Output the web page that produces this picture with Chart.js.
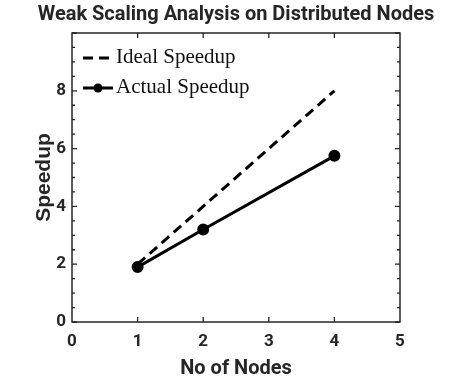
<!DOCTYPE html>
<html>
<head>
<meta charset="utf-8">
<script src="https://cdn.jsdelivr.net/npm/chart.js@4.4.1/dist/chart.umd.min.js"></script>
<style>
  html, body { margin: 0; padding: 0; background: #fff; }
  #wrap { width: 458px; height: 379px; }
</style>
</head>
<body>
<div id="wrap"><canvas id="myChart" width="458" height="379"></canvas></div>
<script>
// values
const nodes = [1, 2, 4];
const idealSpeedup = [2, 4, 8];
const actualSpeedup = [1.9, 3.2, 5.75];
const xTicks = [0, 1, 2, 3, 4, 5];
const yTicks = [0, 2, 4, 6, 8];
const yMinorTicks = [0.5, 1, 1.5, 2.5, 3, 3.5, 4.5, 5, 5.5, 6.5, 7, 7.5, 8.5, 9, 9.5, 10];
const seriesNames = ["Ideal Speedup", "Actual Speedup"];
const chartTitle = "Weak Scaling Analysis on Distributed Nodes";

const ink = "#262626";
const narrow = "Roboto, 'Liberation Sans', sans-serif";
const tickFont = { family: narrow, weight: "bold", size: 17 };

const toPoints = (xs, ys) => xs.map((x, i) => ({ x: x, y: ys[i] }));

// axes box, inward ticks, title and legend (matlab look)
const frame = {
  id: "frame",
  afterDraw(chart) {
    const ctx = chart.ctx;
    const a = chart.chartArea;
    const xs = chart.scales.x, ys = chart.scales.y;
    ctx.save();
    ctx.strokeStyle = ink;
    ctx.lineWidth = 1.5;
    ctx.strokeRect(a.left, a.top, a.right - a.left, a.bottom - a.top);
    ctx.lineWidth = 1.3;
    ctx.beginPath();
    xTicks.slice(1, -1).forEach(v => {
      const px = xs.getPixelForValue(v);
      ctx.moveTo(px, a.bottom); ctx.lineTo(px, a.bottom - 5);
      ctx.moveTo(px, a.top); ctx.lineTo(px, a.top + 5);
    });
    yTicks.concat([10]).forEach(v => {
      const py = ys.getPixelForValue(v);
      ctx.moveTo(a.left, py); ctx.lineTo(a.left + 5, py);
      ctx.moveTo(a.right, py); ctx.lineTo(a.right - 5, py);
    });
    yMinorTicks.forEach(v => {
      const py = ys.getPixelForValue(v);
      ctx.moveTo(a.left, py); ctx.lineTo(a.left + 3, py);
      ctx.moveTo(a.right, py); ctx.lineTo(a.right - 3, py);
    });
    ctx.stroke();

    // title
    ctx.fillStyle = ink;
    ctx.font = "bold 20px " + narrow;
    ctx.textAlign = "center";
    ctx.textBaseline = "middle";
    ctx.fillText(chartTitle, (a.left + a.right) / 2, 15);

    // legend
    ctx.font = "21px 'Liberation Serif', serif";
    ctx.textAlign = "left";
    chart.data.datasets.forEach((ds, i) => {
      const y = a.top + 25 + i * 30;
      const x0 = a.left + 11, x1 = a.left + 41;
      ctx.strokeStyle = ds.borderColor;
      ctx.lineWidth = ds.borderWidth;
      ctx.setLineDash(ds.borderDash || []);
      ctx.beginPath();
      ctx.moveTo(x0, y); ctx.lineTo(x1, y);
      ctx.stroke();
      ctx.setLineDash([]);
      if (ds.pointRadius > 0) {
        ctx.fillStyle = ds.pointBackgroundColor;
        ctx.beginPath();
        ctx.arc((x0 + x1) / 2, y, ds.pointRadius, 0, Math.PI * 2);
        ctx.fill();
      }
      ctx.fillStyle = "#111";
      ctx.fillText(ds.label, x1 + 3, y - 1);
    });
    ctx.restore();
  }
};

new Chart(document.getElementById("myChart"), {
  type: "line",
  data: {
    datasets: [
      {
        label: seriesNames[0],
        data: toPoints(nodes, idealSpeedup),
        borderColor: "#000",
        borderWidth: 3,
        borderDash: [10, 6],
        pointRadius: 0,
        fill: false
      },
      {
        label: seriesNames[1],
        data: toPoints(nodes, actualSpeedup),
        borderColor: "#000",
        borderWidth: 3,
        pointRadius: 4.5,
        pointBackgroundColor: "#000",
        pointBorderColor: "#000",
        fill: false
      }
    ]
  },
  options: {
    responsive: false,
    animation: false,
    layout: { padding: { top: 33, right: 58, left: 0, bottom: 0 } },
    plugins: {
      legend: { display: false },
      title: { display: false },
      tooltip: { enabled: false }
    },
    scales: {
      x: {
        type: "linear",
        min: 0,
        max: 5,
        afterBuildTicks: s => { s.ticks = xTicks.map(v => ({ value: v })); },
        afterFit: s => { s.height = 57; },
        grid: { display: false, drawTicks: false },
        border: { display: false },
        ticks: { color: ink, font: tickFont, padding: 10, maxRotation: 0 },
        title: {
          display: true,
          text: "No of Nodes",
          color: ink,
          font: { family: narrow, weight: "bold", size: 20, lineHeight: 1 },
          padding: { top: 0, bottom: 0 }
        }
      },
      y: {
        type: "linear",
        min: 0,
        max: 10,
        afterBuildTicks: s => { s.ticks = yTicks.map(v => ({ value: v })); },
        afterFit: s => { s.width = 72; },
        grid: { display: false, drawTicks: false },
        border: { display: false },
        ticks: { color: ink, font: tickFont, padding: 6 },
        title: {
          display: true,
          text: "Speedup",
          color: ink,
          font: { family: "'Liberation Sans', Arial, sans-serif", weight: "bold", size: 21, lineHeight: 1 },
          padding: { top: 34, bottom: 0 }
        }
      }
    }
  },
  plugins: [frame]
});
</script>
</body>
</html>
